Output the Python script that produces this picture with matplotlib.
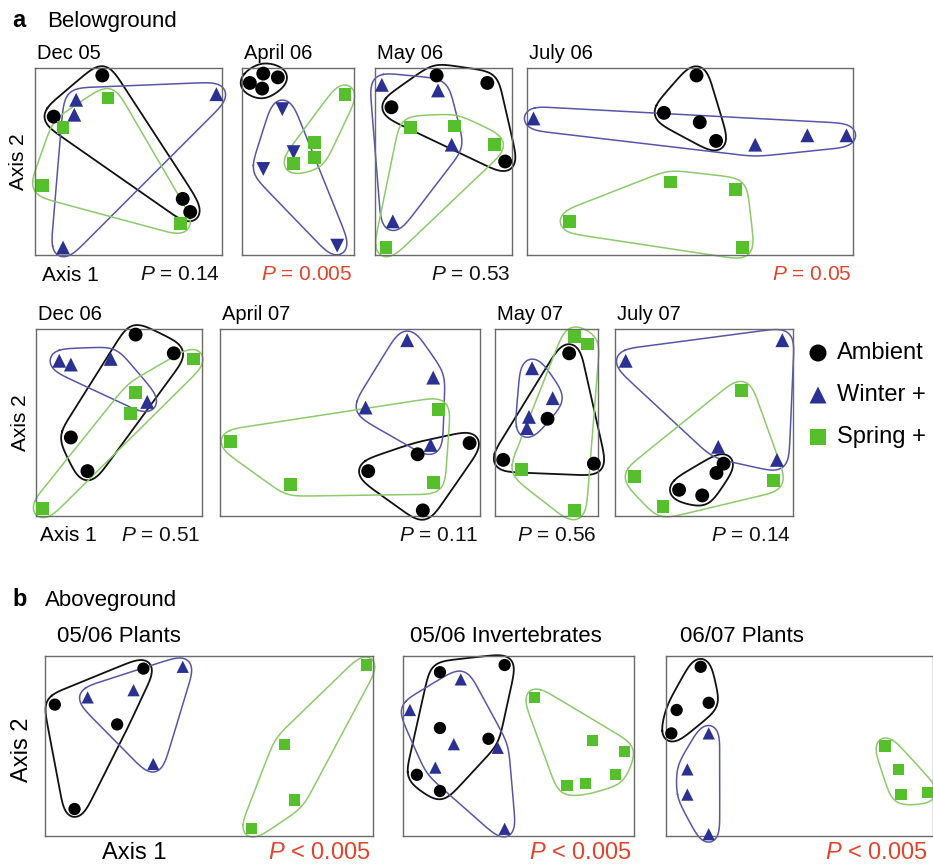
import matplotlib
matplotlib.use("Agg")
import matplotlib.pyplot as plt
import numpy as np

plt.rcParams['font.family'] = 'Liberation Sans'
plt.rcParams['mathtext.fontset'] = 'custom'
plt.rcParams['mathtext.rm'] = 'Liberation Sans'
plt.rcParams['mathtext.it'] = 'Liberation Sans:italic'

W, H = 933, 865

# ordination scores, scaled 0..1 within each panel (axis 1, axis 2)
dec05_amb = [(0.36, 0.96), (0.10, 0.74), (0.79, 0.30), (0.83, 0.23)]
dec05_win = [(0.22, 0.83), (0.21, 0.75), (0.97, 0.86), (0.15, 0.04)]
dec05_spr = [(0.39, 0.84), (0.15, 0.68), (0.04, 0.37), (0.78, 0.17)]

apr06_amb = [(0.19, 0.97), (0.32, 0.95), (0.07, 0.92), (0.18, 0.89)]
apr06_win = [(0.36, 0.78), (0.46, 0.55), (0.19, 0.46), (0.85, 0.05)]
apr06_spr = [(0.92, 0.86), (0.65, 0.60), (0.65, 0.52), (0.46, 0.49)]

may06_amb = [(0.45, 0.96), (0.82, 0.92), (0.12, 0.79), (0.95, 0.50)]
may06_win = [(0.05, 0.91), (0.46, 0.88), (0.56, 0.59), (0.13, 0.18)]
may06_spr = [(0.26, 0.68), (0.58, 0.69), (0.87, 0.59), (0.08, 0.04)]

jul06_amb = [(0.52, 0.96), (0.42, 0.76), (0.53, 0.71), (0.58, 0.61)]
jul06_win = [(0.02, 0.73), (0.70, 0.59), (0.86, 0.64), (0.98, 0.64)]
jul06_spr = [(0.44, 0.39), (0.64, 0.35), (0.13, 0.18), (0.66, 0.04)]

dec06_amb = [(0.60, 0.97), (0.83, 0.87), (0.21, 0.42), (0.31, 0.24)]
dec06_win = [(0.14, 0.83), (0.21, 0.81), (0.45, 0.84), (0.67, 0.61)]
dec06_spr = [(0.95, 0.84), (0.60, 0.66), (0.57, 0.55), (0.04, 0.04)]

apr07_amb = [(0.96, 0.39), (0.76, 0.33), (0.57, 0.24), (0.78, 0.03)]
apr07_win = [(0.72, 0.94), (0.82, 0.74), (0.56, 0.58), (0.81, 0.38)]
apr07_spr = [(0.04, 0.40), (0.84, 0.57), (0.27, 0.17), (0.82, 0.18)]

may07_amb = [(0.72, 0.87), (0.51, 0.52), (0.08, 0.30), (0.96, 0.28)]
may07_win = [(0.36, 0.79), (0.56, 0.63), (0.33, 0.53), (0.31, 0.47)]
may07_spr = [(0.77, 0.96), (0.90, 0.92), (0.26, 0.25), (0.77, 0.03)]

jul07_amb = [(0.61, 0.28), (0.57, 0.23), (0.36, 0.14), (0.49, 0.11)]
jul07_win = [(0.94, 0.94), (0.06, 0.83), (0.58, 0.37), (0.91, 0.30)]
jul07_spr = [(0.71, 0.67), (0.11, 0.21), (0.89, 0.19), (0.27, 0.05)]

pl0506_amb = [(0.30, 0.93), (0.03, 0.73), (0.22, 0.62), (0.09, 0.15)]
pl0506_win = [(0.42, 0.94), (0.27, 0.81), (0.13, 0.77), (0.33, 0.40)]
pl0506_spr = [(0.98, 0.95), (0.73, 0.51), (0.76, 0.20), (0.63, 0.04)]

inv0506_amb = [(0.44, 0.95), (0.16, 0.91), (0.16, 0.60), (0.37, 0.54), (0.06, 0.34), (0.16, 0.25)]
inv0506_win = [(0.25, 0.87), (0.03, 0.70), (0.22, 0.51), (0.41, 0.49), (0.14, 0.38), (0.44, 0.04)]
inv0506_spr = [(0.57, 0.77), (0.82, 0.53), (0.96, 0.47), (0.92, 0.34), (0.79, 0.29), (0.71, 0.28)]

pl0607_amb = [(0.13, 0.94), (0.16, 0.74), (0.04, 0.70), (0.02, 0.57)]
pl0607_win = [(0.16, 0.57), (0.08, 0.37), (0.08, 0.23), (0.16, 0.01)]
pl0607_spr = [(0.82, 0.50), (0.87, 0.37), (0.88, 0.23), (0.98, 0.24)]

# panel titles and P values
titles_a = ["Dec 05", "April 06", "May 06", "July 06", "Dec 06", "April 07", "May 07", "July 07"]
pvals_a = ["0.14", "0.005", "0.53", "0.05", "0.51", "0.11", "0.56", "0.14"]
signif_a = [False, True, False, True, False, False, False, False]
titles_b = ["05/06 Plants", "05/06 Invertebrates", "06/07 Plants"]
pvals_b = ["< 0.005", "< 0.005", "< 0.005"]

groups = ["Ambient", "Winter +", "Spring +"]
pt_col = ["#000000", "#2b3192", "#55c02c"]
hull_col = ["#111111", "#5656a8", "#8dca6c"]
markers = ["o", "^", "s"]
RED = "#e2432b"


def convex_hull(pts):
    pts = sorted(map(tuple, pts))

    def cross(o, a, b):
        return (a[0] - o[0]) * (b[1] - o[1]) - (a[1] - o[1]) * (b[0] - o[0])
    lower, upper = [], []
    for p in pts:
        while len(lower) >= 2 and cross(lower[-2], lower[-1], p) <= 0:
            lower.pop()
        lower.append(p)
    for p in reversed(pts):
        while len(upper) >= 2 and cross(upper[-2], upper[-1], p) <= 0:
            upper.pop()
        upper.append(p)
    return np.array(lower[:-1] + upper[:-1])


def smooth_hull(pts, r, sigma=9.0):
    # hull grown by r pixels (rounded corners), then softened along its length
    h = convex_hull(pts)
    m = len(h)
    out = []
    for i in range(m):
        p, prev, nxt = h[i], h[i - 1], h[(i + 1) % m]
        d1 = p - prev
        d2 = nxt - p
        n1 = np.array([d1[1], -d1[0]]) / np.hypot(*d1)
        n2 = np.array([d2[1], -d2[0]]) / np.hypot(*d2)
        a1 = np.arctan2(n1[1], n1[0])
        a2 = np.arctan2(n2[1], n2[0])
        if a2 < a1:
            a2 += 2 * np.pi
        a = np.linspace(a1, a2, 24)
        out.append(p + r * np.c_[np.cos(a), np.sin(a)])
    out = np.vstack(out)
    out = np.vstack([out, out[:1]])
    seg = np.hypot(*np.diff(out, axis=0).T)
    s = np.r_[0, np.cumsum(seg)]
    n = int(s[-1])
    u = np.linspace(0, s[-1], n, endpoint=False)
    x = np.interp(u, s, out[:, 0])
    y = np.interp(u, s, out[:, 1])
    k = np.arange(-int(3 * sigma), int(3 * sigma) + 1)
    g = np.exp(-0.5 * (k / sigma) ** 2)
    g /= g.sum()
    xs = np.zeros(n)
    ys = np.zeros(n)
    for kk, gg in zip(k, g):
        xs += gg * np.roll(x, kk)
        ys += gg * np.roll(y, kk)
    res = np.c_[xs, ys]
    return np.vstack([res, res[:1]])


def panel(rect, data, s, r, winmark="^"):
    ax = fig.add_axes(rect)
    wpx = rect[2] * W
    hpx = rect[3] * H
    for g, pts in enumerate(data):
        pts = np.array(pts)
        px = pts * [wpx, hpx]
        ol = smooth_hull(px, r) / [wpx, hpx]
        ax.plot(ol[:, 0], ol[:, 1], color=hull_col[g], lw=1.3 if g == 0 else 1.1,
                clip_on=False, zorder=2)
    for g, pts in enumerate(data):
        pts = np.array(pts)
        mk = markers[g] if g != 1 else winmark
        ax.scatter(pts[:, 0], pts[:, 1], s=s * (0.85 if g == 2 else 1.0), marker=mk,
                   color=pt_col[g], edgecolors="none", clip_on=False, zorder=3)
    ax.set_xlim(0, 1)
    ax.set_ylim(0, 1)
    ax.set_xticks([])
    ax.set_yticks([])
    for sp in ax.spines.values():
        sp.set_color("#6a6a6a")
        sp.set_linewidth(1.0)
    return ax


def box(x0, y0, x1, y1):
    return [x0 / W, 1 - y1 / H, (x1 - x0) / W, (y1 - y0) / H]


def ftext(px, py, s, **kw):
    fig.text(px / W, 1 - py / H, s, **kw)


fig = plt.figure(figsize=(W / 100, H / 100), dpi=100)

# panel a
rects_a = [box(35, 68, 222, 255), box(242, 68, 354, 255), box(375, 68, 512, 255),
           box(527, 68, 853, 255), box(36, 329, 202, 516), box(220, 329, 480, 516),
           box(495, 329, 598, 516), box(615, 329, 793, 516)]
data_a = [
    (dec05_amb, dec05_win, dec05_spr), (apr06_amb, apr06_win, apr06_spr),
    (may06_amb, may06_win, may06_spr), (jul06_amb, jul06_win, jul06_spr),
    (dec06_amb, dec06_win, dec06_spr), (apr07_amb, apr07_win, apr07_spr),
    (may07_amb, may07_win, may07_spr), (jul07_amb, jul07_win, jul07_spr),
]
for i, rect in enumerate(rects_a):
    panel(rect, data_a[i], 100, 12, winmark="v" if i == 1 else "^")
    x0 = rect[0] * W
    x1 = (rect[0] + rect[2]) * W
    ytop = (1 - rect[1] - rect[3]) * H
    ybot = (1 - rect[1]) * H
    ftext(x0 + 2, ytop - 9, titles_a[i], fontsize=14.5, va="baseline", ha="left")
    col = RED if signif_a[i] else "#111111"
    ftext(x1 - 2, ybot + 25, r"$P$ = " + pvals_a[i], fontsize=15, color=col,
          va="baseline", ha="right")

ftext(12, 27, "a", fontsize=17, fontweight="bold", va="baseline")
ftext(47, 27, "Belowground", fontsize=16, va="baseline")
ftext(42, 281, "Axis 1", fontsize=15, va="baseline")
ftext(40, 541, "Axis 1", fontsize=15, va="baseline")
ftext(19, 162, "Axis 2", fontsize=15, rotation=90, va="center", ha="center")
ftext(21, 423, "Axis 2", fontsize=15, rotation=90, va="center", ha="center")

# legend
leg_y = [353, 395, 437]
leg_s = [150, 150, 120]
ax_l = fig.add_axes([0, 0, 1, 1], facecolor="none")
ax_l.set_axis_off()
ax_l.set_xlim(0, W)
ax_l.set_ylim(H, 0)
for g in range(3):
    ax_l.scatter([818], [leg_y[g]], s=leg_s[g], marker=markers[g], color=pt_col[g],
                 edgecolors="none")
    ftext(837, leg_y[g], groups[g], fontsize=17, va="center", ha="left")

# panel b
rects_b = [box(45, 656, 373, 836), box(403, 656, 634, 836), box(666, 656, 933, 836)]
data_b = [(pl0506_amb, pl0506_win, pl0506_spr), (inv0506_amb, inv0506_win, inv0506_spr),
          (pl0607_amb, pl0607_win, pl0607_spr)]
title_x = [57, 410, 680]
for i, rect in enumerate(rects_b):
    panel(rect, data_b[i], 78, 11)
    x1 = min((rect[0] + rect[2]) * W, 930)
    ftext(title_x[i], 642, titles_b[i], fontsize=16, va="baseline", ha="left")
    ftext(x1 - 2, 859, r"$P$ " + pvals_b[i], fontsize=17, color=RED,
          va="baseline", ha="right")

ftext(12, 606, "b", fontsize=17, fontweight="bold", va="baseline")
ftext(45, 606, "Aboveground", fontsize=16, va="baseline")
ftext(102, 859, "Axis 1", fontsize=17, va="baseline")
ftext(22, 750, "Axis 2", fontsize=17, rotation=90, va="center", ha="center")

fig.savefig("out.png", dpi=100)
